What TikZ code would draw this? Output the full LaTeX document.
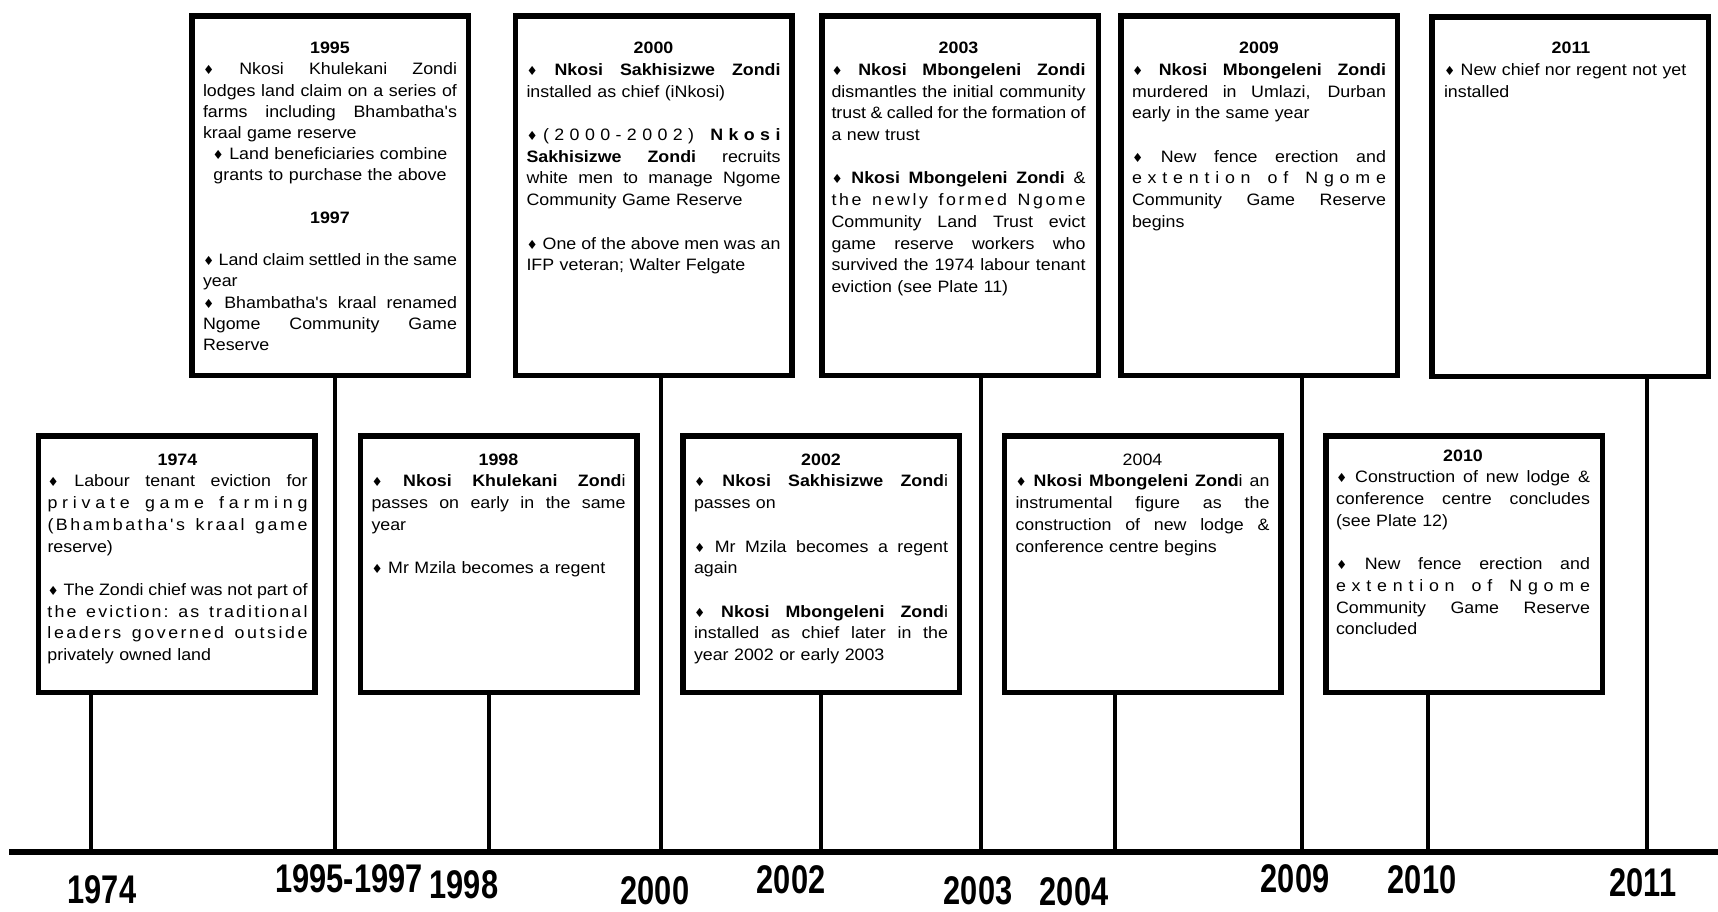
\documentclass[tikz,border=0pt]{standalone}
\usepackage{fontspec}
\newfontfamily\bodyfont{Liberation Sans}[FakeStretch=1.08]
\newfontfamily\labfont{Liberation Sans}[FakeStretch=0.77]
\newfontfamily\symfont{DejaVu Sans}
\newlength\tw \setlength\tw{254pt}
\newcommand\bul{{\symfont\fontsize{12.5}{12}\selectfont ♦}}
\newcommand\J[1]{\makebox[\tw][s]{\spaceskip=\fontdimen2\font plus 1fil minus .35\fontdimen2\font\relax #1}}
\newcommand\C[1]{\makebox[\tw][c]{#1}}
\makeatletter
\newcommand\sprw[1]{\@tfor\sp@t:=#1\do{\sp@t\hfil}}
\def\LS#1{\makebox[\tw][s]{\LS@a#1 \@nil\unskip}}
\def\LS@a#1 #2\@nil{\sprw{#1}\ifx\relax#2\relax\else\ \hfil\LS@a#2\@nil\fi}
\makeatother
\newcommand\ttl[1]{\C{\rule{0pt}{12pt}\textbf{#1}}}
\begin{document}
\begin{tikzpicture}[x=1pt,y=-1pt,
  box/.style={draw=black, line width=5.5pt, fill=white, minimum width=276.5pt, inner sep=0pt},
  topbox/.style={box, minimum height=359.5pt},
  botbox/.style={box, minimum height=256.5pt},
  txt/.style={anchor=north, inner sep=0pt, text width=\tw, align=left, font=\bodyfont\fontsize{16.5}{21.7}\selectfont},
  stem/.style={line width=4.5pt},
  axisline/.style={line width=6pt},
  yr/.style={font=\labfont\bfseries\fontsize{40}{40}\selectfont, inner sep=0pt}
]
\fill[white] (0,0) rectangle (1718,911);
\useasboundingbox (0,0) rectangle (1718,911);

% axis and tick coordinates
\coordinate (axL) at (9,852);
\coordinate (axR) at (1718,852);
\coordinate (t1974) at (91,852);
\coordinate (t1995) at (335,852);
\coordinate (t1998) at (489,852);
\coordinate (t2000) at (661,852);
\coordinate (t2002) at (821,852);
\coordinate (t2003) at (981,852);
\coordinate (t2004) at (1115,852);
\coordinate (t2009) at (1302,852);
\coordinate (t2010) at (1428,852);
\coordinate (t2011) at (1647,852);

% boxes
\node[topbox] (b1995) at (330,195.5) {};
\node[topbox] (b2000) at (653.5,195.5) {};
\node[topbox] (b2003) at (960,195.5) {};
\node[topbox] (b2009) at (1259,195.5) {};
\node[topbox] (b2011) at (1570,196.5) {};
\node[botbox] (b1974) at (176.5,564) {};
\node[botbox] (b1998) at (498.5,564) {};
\node[botbox] (b2002) at (821,564) {};
\node[botbox] (b2004) at (1142.5,564) {};
\node[botbox] (b2010) at (1464,564) {};

% stems
\foreach \y in {1974,1995,1998,2000,2002,2003,2004,2009,2010,2011}
  \draw[stem] (b\y.south -| t\y) -- (t\y);
\draw[axisline] (axL) -- (axR);

% texts
\node[txt, text width=260pt] (x1974) at (177.5,453) {\tw=260pt\relax\ttl{1974}\\
\J{\bul\ Labour tenant eviction for}\\
\LS{private game farming}\\
\LS{(Bhambatha's kraal game}\\
reserve)\\[21.7pt]
\J{\bul\ The Zondi chief was not part of}\\
\LS{the eviction: as traditional}\\
\LS{leaders governed outside}\\
privately owned land};

\node[txt, font=\bodyfont\fontsize{16.5}{21.2}\selectfont] (x1995) at (330,41.5) {\ttl{1995}\\
\J{\bul\ Nkosi Khulekani Zondi}\\
\J{lodges land claim on a series of}\\
\J{farms including Bhambatha's}\\
kraal game reserve\\
\C{\bul\ Land beneficiaries combine}\\
\C{grants to purchase the above}\\[21.2pt]
\C{\textbf{1997}}\\[21.2pt]
\J{\bul\ Land claim settled in the same}\\
year\\
\J{\bul\ Bhambatha's kraal renamed}\\
\J{Ngome Community Game}\\
Reserve};

\node[txt] (x1998) at (498.5,453) {\ttl{1998}\\
\J{\bul\ \textbf{Nkosi Khulekani Zond}i}\\
\J{passes on early in the same}\\
year\\[21.7pt]
\bul\ Mr Mzila becomes a regent};

\node[txt] (x2000) at (653.5,41.5) {\ttl{2000}\\
\J{\bul\ \textbf{Nkosi Sakhisizwe Zondi}}\\
installed as chief (iNkosi)\\[21.7pt]
\makebox[\tw][s]{\sprw{\bul(2000-2002)}\ \hfil\textbf{\sprw{Nkosi}\unskip}}\\
\J{\textbf{Sakhisizwe Zondi} recruits}\\
\J{white men to manage Ngome}\\
Community Game Reserve\\[21.7pt]
\J{\bul\ One of the above men was an}\\
IFP veteran; Walter Felgate};

\node[txt] (x2002) at (821,453) {\ttl{2002}\\
\J{\bul\ \textbf{Nkosi Sakhisizwe Zond}i}\\
passes on\\[21.7pt]
\J{\bul\ Mr Mzila becomes a regent}\\
again\\[21.7pt]
\J{\bul\ \textbf{Nkosi Mbongeleni Zond}i}\\
\J{installed as chief later in the}\\
year 2002 or early 2003};

\node[txt] (x2003) at (958.5,41.5) {\ttl{2003}\\
\J{\bul\ \textbf{Nkosi Mbongeleni Zondi}}\\
\J{dismantles the initial community}\\
\J{trust \& called for the formation of}\\
a new trust\\[21.7pt]
\J{\bul\ \textbf{Nkosi Mbongeleni Zondi} \&}\\
\LS{the newly formed Ngome}\\
\J{Community Land Trust evict}\\
\J{game reserve workers who}\\
\J{survived the 1974 labour tenant}\\
eviction (see Plate 11)};

\node[txt] (x2004) at (1142.5,453) {\C{\rule{0pt}{12pt}2004}\\
\J{\bul\ \textbf{Nkosi Mbongeleni Zond}i an}\\
\J{instrumental figure as the}\\
\J{construction of new lodge \&}\\
conference centre begins};

\node[txt] (x2009) at (1259,41.5) {\ttl{2009}\\
\J{\bul\ \textbf{Nkosi Mbongeleni Zondi}}\\
\J{murdered in Umlazi, Durban}\\
early in the same year\\[21.7pt]
\J{\bul\ New fence erection and}\\
\LS{extention of Ngome}\\
\J{Community Game Reserve}\\
begins};

\node[txt] (x2010) at (1463,449) {\ttl{2010}\\
\J{\bul\ Construction of new lodge \&}\\
\J{conference centre concludes}\\
(see Plate 12)\\[21.7pt]
\J{\bul\ New fence erection and}\\
\LS{extention of Ngome}\\
\J{Community Game Reserve}\\
concluded};

\node[txt] (x2011) at (1571,41.5) {\ttl{2011}\\
\bul\ New chief nor regent not yet\\
installed};

% year labels
\node[yr] (l1974) at (102,890) {1974};
\node[yr] (l1995) at (349,879) {1995-1997};
\node[yr] (l1998) at (464,885) {1998};
\node[yr] (l2000) at (655,891) {2000};
\node[yr] (l2002) at (791,880) {2002};
\node[yr] (l2003) at (978,891) {2003};
\node[yr] (l2004) at (1074,892) {2004};
\node[yr] (l2009) at (1295,879) {2009};
\node[yr] (l2010) at (1422,880) {2010};
\node[yr] (l2011) at (1643,883) {2011};
\end{tikzpicture}
\end{document}
